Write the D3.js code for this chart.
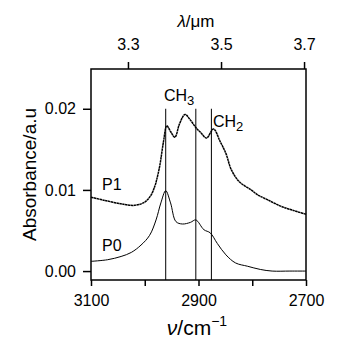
<!DOCTYPE html>
<html><head><meta charset="utf-8">
<script src="https://cdn.jsdelivr.net/npm/d3@7"></script>
<style>body{margin:0;background:#fff}svg{display:block}text{font-family:"Liberation Sans",Arial,sans-serif}</style>
</head><body><svg id="c" width="341" height="355"></svg>
<script>
const p1Wavenumber = [3100,3074,3037,3019,3000,2988,2981,2978,2972,2965,2959,2952,2944,2935,2925,2915,2905,2895,2885,2872,2860,2849,2839,2824,2802,2790,2772,2747,2725,2700];
const p1Absorbance = [0.0091,0.0087,0.0082,0.0081,0.0085,0.0094,0.0105,0.0112,0.0130,0.0160,0.0179,0.0172,0.0165,0.0182,0.0193,0.0186,0.0177,0.0170,0.0164,0.0175,0.0160,0.0145,0.0125,0.0110,0.0100,0.0094,0.0088,0.0080,0.0075,0.0070];
const p0Wavenumber = [3100,3069,3044,3025,3007,2991,2979,2970,2961,2952,2942,2930,2915,2905,2890,2878,2865,2849,2831,2809,2785,2763,2730,2700];
const p0Absorbance = [0.0012,0.0014,0.0018,0.0023,0.0032,0.0044,0.0063,0.0084,0.0099,0.0084,0.0061,0.0058,0.0060,0.0063,0.0051,0.0047,0.0034,0.0020,0.0010,0.0006,0.0002,0.0000,0.0000,0.0000];
const seriesNames = ["P1","P0"];
const bandPositions = [2961,2905,2876];
const bandLabels = ["CH3","CH2"];
const bottomTicks = [3100,3000,2900,2800,2700];
const bottomTickLabels = ["3100","","2900","","2700"];
const leftTicks = [0,0.01,0.02];
const topTicks = [3.3,3.5,3.7];

const svg = d3.select("#c");
const L=91,R=306,T=69,B=280;
const x = d3.scaleLinear().domain([3100,2700]).range([L,R]);
const y = d3.scaleLinear().domain([-0.0011,0.0249]).range([B,T]);

svg.append("rect").attr("x",L).attr("y",T).attr("width",R-L).attr("height",B-T)
  .attr("fill","none").attr("stroke","#000").attr("stroke-width",1.5);

const fs = 16;
const bAx = svg.append("g").attr("transform",`translate(0,${B})`)
  .call(d3.axisBottom(x).tickValues(bottomTicks).tickSize(6).tickPadding(9).tickFormat((d,i)=>bottomTickLabels[i]));
const lAx = svg.append("g").attr("transform",`translate(${L},0)`)
  .call(d3.axisLeft(y).tickValues(leftTicks).tickSize(8).tickPadding(7).tickFormat(d3.format(".2f")));
const tAx = svg.append("g").attr("transform",`translate(0,${T})`);
tAx.selectAll(".tick").data(topTicks).enter().append("g").attr("class","tick")
  .attr("transform",d=>`translate(${x(1e4/d)},0)`).each(function(d){
    const g=d3.select(this);
    g.append("line").attr("y1",0).attr("y2",-7);
    g.append("text").attr("y",-19).attr("text-anchor","middle").text(d.toFixed(1));
  });
[bAx,lAx,tAx].forEach(a=>{
  a.select(".domain").remove();
  a.selectAll("line").attr("stroke","#000").attr("stroke-width",1.5);
  a.selectAll("text").attr("font-size",fs).attr("font-family","Liberation Sans, Arial, sans-serif").attr("fill","#000");
});

svg.selectAll(".band").data(bandPositions).enter().append("line")
  .attr("x1",d=>x(d)).attr("x2",d=>x(d)).attr("y1",y(0.02)).attr("y2",B)
  .attr("stroke","#000").attr("stroke-width",1);

const line = d3.line().x(d=>x(d[0])).y(d=>y(d[1])).curve(d3.curveCatmullRom.alpha(0.5));
svg.append("path").datum(p1Wavenumber.map((v,i)=>[v,p1Absorbance[i]]))
  .attr("d",line).attr("fill","none").attr("stroke","#000").attr("stroke-width",1.5).attr("stroke-dasharray","2.5,0.4");
svg.append("path").datum(p0Wavenumber.map((v,i)=>[v,p0Absorbance[i]]))
  .attr("d",line).attr("fill","none").attr("stroke","#000").attr("stroke-width",1);

svg.append("text").attr("x",102).attr("y",190).attr("font-size",16).text(seriesNames[0]);
svg.append("text").attr("x",102).attr("y",251).attr("font-size",16).text(seriesNames[1]);

function chem(t,xp,yp){
  const tx=svg.append("text").attr("x",xp).attr("y",yp).attr("font-size",16);
  tx.append("tspan").text(t.slice(0,2));
  tx.append("tspan").attr("font-size",13).attr("dy",4).text(t.slice(2));
}
chem(bandLabels[0],164,101);
chem(bandLabels[1],213,127);

const xt=svg.append("text").attr("x",197).attr("y",335).attr("text-anchor","middle").attr("font-size",21);
xt.append("tspan").attr("font-style","italic").text("ν");
xt.append("tspan").text("/cm");
xt.append("tspan").attr("font-size",14).attr("dy",-9).text("−1");
const tt=svg.append("text").attr("x",196).attr("y",27).attr("text-anchor","middle").attr("font-size",17);
tt.append("tspan").attr("font-style","italic").text("λ");
tt.append("tspan").text("/μm");
svg.append("text").attr("transform",`translate(36,${(T+B)/2}) rotate(-90)`).attr("text-anchor","middle")
  .attr("font-size",19).text("Absorbance/a.u");
</script></body></html>
